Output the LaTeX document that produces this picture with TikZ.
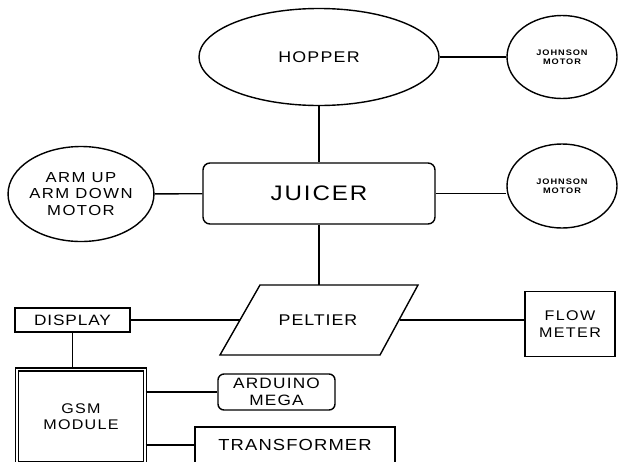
\documentclass[tikz,border=0pt]{standalone}
\usepackage{fontspec}
\setmainfont{Liberation Sans}[FakeStretch=1.15]
\usetikzlibrary{shapes.geometric}
\newcommand{\lsf}[3]{\fontsize{#1}{#2}\selectfont\addfontfeatures{LetterSpace=#3}}
\tikzset{
  base/.style={draw, line width=1.4pt, inner sep=0pt, align=center, text=black},
  oval/.style={base, ellipse},
  box/.style={base, rectangle},
  rbox/.style={base, rectangle, rounded corners=7pt},
  conn/.style={line width=1.4pt},
}
\begin{document}
\begin{tikzpicture}[x=1pt, y=-1pt]
\clip (0,0) rectangle (628,461);
\fill[white] (0,0) rectangle (628,461);
% nodes
\node[oval, minimum width=240pt, minimum height=97pt, font=\lsf{15.5}{18}{8}] (hopper) at (319,57) {HOPPER};
\node[oval, minimum width=110pt, minimum height=83pt, font=\lsf{8}{8.5}{12}\bfseries] (j1) at (562,57) {JOHNSON\\MOTOR};
\node[rbox, minimum width=232pt, minimum height=61pt, font=\lsf{21}{24}{9}] (juicer) at (319,193.5) {JUICER};
\node[oval, minimum width=132pt, minimum height=95pt, font=\lsf{14.5}{16.5}{10}] (arm) at (81,194) {ARM UP\\ARM DOWN\\MOTOR};
\node[oval, minimum width=110pt, minimum height=84pt, font=\lsf{8}{8.5}{12}\bfseries] (j2) at (562,186) {JOHNSON\\MOTOR};
% peltier parallelogram
\coordinate (pTL) at (260,285);
\coordinate (pTR) at (418,285);
\coordinate (pBR) at (380,355);
\coordinate (pBL) at (220,355);
\draw[conn, line join=miter] (pTL) -- (pTR) -- (pBR) -- (pBL) -- cycle;
\node[inner sep=0pt, text=black, font=\lsf{15.5}{18}{6}] (pelt) at (318,320) {PELTIER};
\coordinate (peltT) at (319,285);
\coordinate (peltL) at (240,320);
\coordinate (peltR) at (399.5,320);
\node[box, minimum width=115pt, minimum height=24pt, font=\lsf{15}{17}{6}] (display) at (72.5,320) {DISPLAY};
\node[box, minimum width=90pt, minimum height=65pt, font=\lsf{14}{17}{10}] (flow) at (570,324) {FLOW\\METER};
\node[base, double, line width=1.3pt, double distance=1.8pt, minimum width=128pt, minimum height=94pt, font=\lsf{14}{16}{9}] (gsm) at (81,416.5) {GSM\\MODULE};
\node[rbox, rounded corners=6pt, minimum width=117pt, minimum height=36pt, font=\lsf{15}{17}{8}] (arduino) at (276.5,392) {ARDUINO\\MEGA};
\node[box, minimum width=200pt, minimum height=36pt, font=\lsf{16}{18}{7}] (trans) at (295,445) {TRANSFORMER};
% connectors
\draw[conn] (hopper) -- (juicer);
\draw[conn] (hopper) -- (j1);
\draw[conn] (arm) -- (juicer);
\draw[conn] (juicer.east) -- (juicer.east -| j2.west);
\draw[conn] (juicer.south) -- (peltT);
\draw[conn] (display.east) -- (peltL);
\draw[conn] (peltR) -- (peltR -| flow.west);
\draw[conn] (display.south) -- (display.south |- gsm.north);
\draw[conn] (arduino.west -| gsm.east) -- (arduino.west);
\draw[conn] (trans.west -| gsm.east) -- (trans.west);
\end{tikzpicture}
\end{document}
